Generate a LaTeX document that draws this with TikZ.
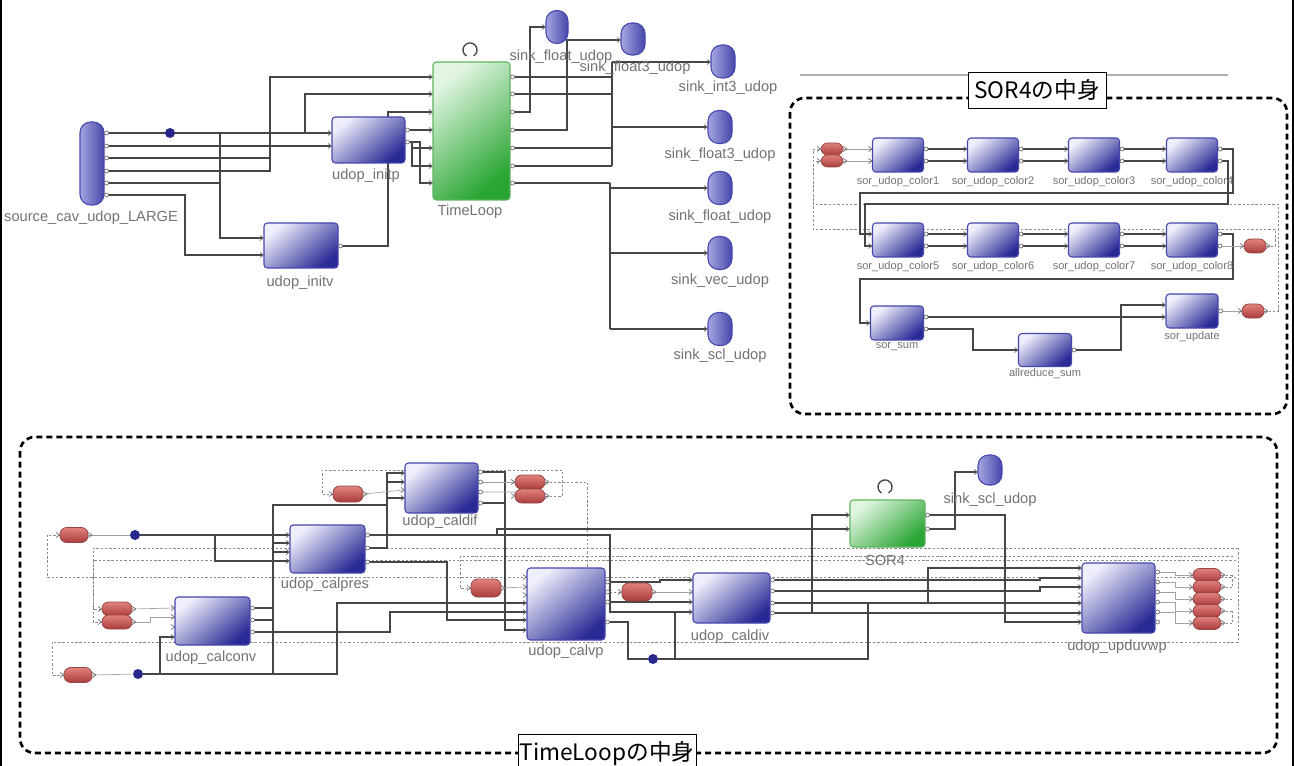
\documentclass[tikz,border=0pt]{standalone}
\usepackage{fontspec}
\setmainfont{Liberation Sans}
\newfontfamily\jpfont{Noto Sans CJK JP}
\usetikzlibrary{calc}
\pgfdeclarelayer{bg}
\pgfdeclarelayer{paper}
\pgfsetlayers{paper,bg,main}
\definecolor{btop}{RGB}{238,238,252}
\definecolor{bbot}{RGB}{42,42,150}
\definecolor{bedge}{RGB}{70,70,175}
\definecolor{gtop}{RGB}{225,245,225}
\definecolor{gbot}{RGB}{40,165,50}
\definecolor{gedge}{RGB}{95,180,95}
\definecolor{ctop}{RGB}{165,165,225}
\definecolor{cbot}{RGB}{70,70,170}
\definecolor{rtop}{RGB}{225,130,125}
\definecolor{rbot}{RGB}{170,60,60}
\definecolor{redge}{RGB}{150,70,70}
\definecolor{dotc}{RGB}{40,40,140}
\definecolor{wirec}{RGB}{70,70,70}
\definecolor{lblc}{RGB}{115,115,115}
\definecolor{fbc}{RGB}{140,140,140}
\newcommand\pti[1]{\draw[portst] (#1) ++(-3.5,-2.5) -- ++(3.5,2.5) -- ++(-3.5,2.5);}
\newcommand\pto[1]{\draw[portst,fill=white] (#1) ++(2,0) circle[radius=2];}
\newcommand\ptr[1]{\draw[portst] (#1) ++(0,-2.5) -- ++(3.5,2.5) -- ++(-3.5,2.5);}
\tikzset{
 sz/.style 2 args={minimum width=#1*0.75pt, minimum height=#2*0.75pt},
 blk/.style={draw=bedge, line width=0.8pt, rounded corners=2.5pt, inner sep=0pt, top color=btop, bottom color=bbot, shading angle=40},
 gblk/.style={draw=gedge, line width=0.8pt, rounded corners=2.5pt, inner sep=0pt, top color=gtop, bottom color=gbot, shading angle=40},
 capsv/.style={draw=bedge, line width=0.8pt, inner sep=0pt, rounded corners=8pt, left color=ctop, right color=cbot},
 capsr/.style={draw=redge, line width=0.6pt, inner sep=0pt, rounded corners=5pt, top color=rtop, bottom color=rbot, sz={28}{15}},
 dotn/.style={circle, fill=dotc, inner sep=0pt, minimum size=7.5pt},
 w/.style={draw=wirec, line width=0.8pt},
 tw/.style={draw=fbc!80, line width=0.5pt},
 fb/.style={draw=fbc, line width=0.7pt, dash pattern=on 1.8pt off 1.4pt},
 portst/.style={draw=wirec!80, line width=0.5pt},
 lbl/.style={text=lblc, inner sep=0pt, font=\fontsize{11}{12}\selectfont},
 slbl/.style={text=lblc, inner sep=0pt, font=\fontsize{8.3}{9}\selectfont},
 frame/.style={draw=black, line width=2pt, dash pattern=on 4.5pt off 3pt, rounded corners=11pt},
 jbox/.style={draw=black, line width=0.6pt, fill=white, inner sep=0pt, font=\jpfont\fontsize{17}{18}\selectfont},
 loopst/.style={draw=wirec, line width=1pt},
}
\begin{document}
\begin{tikzpicture}[x=0.75pt,y=-0.75pt]
\useasboundingbox (0,0) rectangle (1294,766);
\begin{pgfonlayer}{paper}
\fill[white] (0,0) rectangle (1294,766);
\end{pgfonlayer}
\draw[line width=1.6pt] (1,0) -- (1,766);
\draw[line width=1.6pt] (1293,0) -- (1293,766);

% ---------------- top-left graph ----------------
\node[capsv, sz={24}{83}] (src) at (92,163.5) {};
\node[blk, sz={73}{46}] (initp) at (368.5,140) {};
\node[blk, sz={74}{45}] (initv) at (301,245.5) {};
\node[gblk, sz={77}{138}] (TL) at (471.5,131) {};
\node[capsv, sz={22}{33}] (skfa) at (557,27) {};
\node[capsv, sz={24}{32}] (skfta) at (633,39) {};
\node[capsv, sz={24}{33}] (skit) at (723,61.5) {};
\node[capsv, sz={24}{33}] (skftb) at (720,127) {};
\node[capsv, sz={24}{33}] (skfb) at (720,188) {};
\node[capsv, sz={24}{33}] (skv) at (720,253) {};
\node[capsv, sz={24}{33}] (sks) at (720,329) {};
\node[dotn] (dA) at (170,133) {};
\draw[loopst] (466.5,56) arc[start angle=120, end angle=420, radius=7];

\begin{pgfonlayer}{bg}
\draw[w] (src.east |- 0,133) -- (initp.west |- 0,133);
\draw[w, line width=1.7pt] (253,133) -- (305,133);
\draw[w] (src.east |- 0,146) -- (initp.west |- 0,146);
\draw[w] (src.east |- 0,158) -- (270,158);
\draw[w] (src.east |- 0,171) -- (270,171) -- (270,77) -- (TL.west |- 0,77);
\draw[w] (src.east |- 0,183) -- (220,183);
\draw[w] (src.east |- 0,195) -- (185,195) -- (185,255) -- (initv.west |- 0,255);
\draw[w] (220,133) -- (220,238) -- (initv.west |- 0,238);
\draw[w] (305,133) -- (305,94) -- (TL.west |- 0,94);
\draw[w] (initv.east |- 0,246) -- (388,246) -- (388,112) -- (TL.west |- 0,112);
\draw[w] (initp.east |- 0,130) -- (TL.west |- 0,130);
\draw[w] (initp.east |- 0,142) -- (412,142) -- (412,166) -- (TL.west |- 0,166);
\draw[w] (412,148) -- (TL.west |- 0,148);
\draw[w] (412,142) -- (420,142) -- (420,183) -- (TL.west |- 0,183);
\draw[w] (TL.east |- 0,77) -- (612,77);
\draw[w] (TL.east |- 0,94) -- (612,94);
\draw[w] (TL.east |- 0,112) -- (530,112) -- (530,27) -- (skfa.west |- 0,27);
\draw[w] (TL.east |- 0,130) -- (567,130) -- (567,40) -- (skfta.west |- 0,40);
\draw[w] (TL.east |- 0,148) -- (612,148);
\draw[w] (TL.east |- 0,166) -- (612,166);
\draw[w] (TL.east |- 0,183) -- (610,183);
\draw[w] (612,62) -- (612,166);
\draw[w] (610,183) -- (610,329);
\draw[w] (612,62) -- (skit.west |- 0,62);
\draw[w] (612,127) -- (skftb.west |- 0,127);
\draw[w] (610,188) -- (skfb.west |- 0,188);
\draw[w] (610,253) -- (skv.west |- 0,253);
\draw[w] (610,329) -- (sks.west |- 0,329);
\end{pgfonlayer}

\foreach \y in {133,146,158,171,183,195} {\pto{src.east |- 0,\y}}
\foreach \y in {133,146} {\pti{initp.west |- 0,\y}}
\foreach \y in {130,142} {\pto{initp.east |- 0,\y}}
\foreach \y in {238,255} {\pti{initv.west |- 0,\y}}
\pto{initv.east |- 0,246}
\foreach \y in {77,94,112,130,148,166,183} {\pti{TL.west |- 0,\y}\pto{TL.east |- 0,\y}}
\pti{skfa.west |- 0,27}\pti{skfta.west |- 0,40}\pti{skit.west |- 0,62}
\pti{skftb.west |- 0,127}\pti{skfb.west |- 0,188}\pti{skv.west |- 0,253}\pti{sks.west |- 0,329}

\node[lbl] at (91,218) {source\_cav\_udop\_LARGE};
\node[lbl] at (366,176) {udop\_initp};
\node[lbl] at (300,283) {udop\_initv};
\node[lbl] at (470,212) {TimeLoop};
\node[lbl] at (561,57) {sink\_float\_udop};
\node[lbl] at (635,68) {sink\_float3\_udop};
\node[lbl] at (728,88) {sink\_int3\_udop};
\node[lbl] at (720,155) {sink\_float3\_udop};
\node[lbl] at (720,217) {sink\_float\_udop};
\node[lbl] at (720,281) {sink\_vec\_udop};
\node[lbl] at (720,356) {sink\_scl\_udop};

% ---------------- SOR4 contents ----------------
\draw[draw=gray!60, line width=0.8pt] (800,75) -- (1228,75);
\draw[frame] (790,98) rectangle (1287,414);
\node[jbox, sz={138}{36}] (sorlbl) at (1037,90) {SOR4の中身};

\foreach \n/\x/\y in {c1/898/155,c2/993/155,c3/1094/155,c4/1192/155,c5/898/240,c6/993/240,c7/1094/240,c8/1192/240}
  {\node[blk, sz={51}{34}] (\n) at (\x,\y) {};}
\node[blk, sz={53}{34}] (ssum) at (897,323) {};
\node[blk, sz={53}{33}] (ared) at (1045,350) {};
\node[blk, sz={52}{34}] (supd) at (1192,311) {};
\node[capsr, sz={22}{12}] (srA) at (832,149) {};
\node[capsr, sz={22}{12}] (srB) at (832,161) {};
\node[capsr, sz={22}{14}] (srC) at (1255,246) {};
\node[capsr, sz={22}{14}] (srD) at (1253,311) {};

\begin{pgfonlayer}{bg}
\draw[fb] (srD.east) -- (1278,311) -- (1278,204) -- (813,204) -- (813,149) -- (srA.west);
\draw[fb] (srC.east) -- (1275,246) -- (1275,229) -- (813,229) -- (813,161) -- (srB.west);
\draw[tw] (srA.east) -- (c1.west |- 0,149);
\draw[tw] (srB.east) -- (c1.west |- 0,161);
\foreach \a/\b in {c1/c2,c2/c3,c3/c4,c5/c6,c6/c7,c7/c8}
  {\draw[w] ([yshift=4.5pt]\a.east) -- ([yshift=4.5pt]\b.west);
   \draw[w] ([yshift=-4.5pt]\a.east) -- ([yshift=-4.5pt]\b.west);}
\draw[w] (c4.east |- 0,149) -- (1233,149) -- (1233,193) -- (860,193) -- (860,234) -- (c5.west |- 0,234);
\draw[w] (c4.east |- 0,161) -- (1228,161) -- (1228,204) -- (865,204) -- (865,246) -- (c5.west |- 0,246);
\draw[w] (c8.east |- 0,234) -- (1233,234) -- (1233,279) -- (860,279) -- (860,323) -- (ssum.west);
\draw[tw] (c8.east |- 0,246) -- (srC.west);
\draw[w] (ssum.east |- 0,317) -- (supd.west |- 0,317);
\draw[w] (ssum.east |- 0,329) -- (973,329) -- (973,350) -- (ared.west);
\draw[w] (ared.east) -- (1121,350) -- (1121,305) -- (supd.west |- 0,305);
\draw[tw] (supd.east) -- (srD.west);
\end{pgfonlayer}

\foreach \n in {c1,c2,c3,c4,c5,c6,c7,c8}
  {\pti{[yshift=4.5pt]\n.west}\pti{[yshift=-4.5pt]\n.west}\pto{[yshift=4.5pt]\n.east}\pto{[yshift=-4.5pt]\n.east}}
\pti{ssum.west}\pto{ssum.east |- 0,317}\pto{ssum.east |- 0,329}
\pti{ared.west}\pto{ared.east}
\pti{supd.west |- 0,305}\pti{supd.west |- 0,317}\pto{supd.east}
\foreach \n in {srA,srB,srC,srD} {\pti{\n.west}\ptr{\n.east}}

\foreach \n/\x/\y/\t in {c1/898/182/1,c2/993/182/2,c3/1094/182/3,c4/1192/182/4,c5/898/267/5,c6/993/267/6,c7/1094/267/7,c8/1192/267/8}
  {\node[slbl] at (\x,\y) {sor\_udop\_color\t};}
\node[slbl] at (897,347) {sor\_sum};
\node[slbl] at (1045,374) {allreduce\_sum};
\node[slbl] at (1192,337) {sor\_update};

% ---------------- TimeLoop contents ----------------
\draw[frame] (20,437) rectangle (1277,753);
\node[jbox, sz={178}{38}, anchor=north] (tllbl) at (607,734) {TimeLoopの中身};

\node[capsr] (rA) at (74,535) {};
\node[dotn] (dB) at (135,535) {};
\node[capsr, sz={30}{14}] (rB1) at (117,609) {};
\node[capsr, sz={30}{14}] (rB2) at (117,622) {};
\node[capsr] (rC) at (78,675) {};
\node[dotn] (dC) at (138,674) {};
\node[blk, sz={75}{48}] (cconv) at (212.5,621) {};
\node[blk, sz={75}{48}] (cpres) at (327.5,549) {};
\node[blk, sz={73}{50}] (cdif) at (441.5,488) {};
\node[capsr, sz={30}{16}] (rD) at (348,494) {};
\node[capsr, sz={30}{14}] (rE1) at (530,482) {};
\node[capsr, sz={30}{14}] (rE2) at (530,496) {};
\node[blk, sz={78}{72}] (cvp) at (566,604) {};
\node[capsr, sz={30}{18}] (rF) at (486,588) {};
\node[capsr, sz={30}{18}] (rG) at (637,592) {};
\node[dotn] (dD) at (653,659) {};
\node[blk, sz={77}{50}] (cdiv) at (731.5,598) {};
\node[gblk, sz={75}{47}] (sor) at (887.5,523.5) {};
\node[capsv, sz={24}{30}] (sksb) at (990,470) {};
\node[blk, sz={73}{70}] (cupd) at (1118.5,598) {};
\foreach \k/\y in {1/575,2/587,3/599,4/611,5/623} {\node[capsr, sz={28}{13}] (rH\k) at (1207,\y) {};}
\draw[loopst] (881.5,493) arc[start angle=120, end angle=420, radius=7];

\begin{pgfonlayer}{bg}
% feedback loops
\draw[fb] (1238,548) -- (93,548) -- (93,609) -- (rB1.west);
\draw[fb] (1238,548) -- (1238,642) -- (52,642) -- (52,675) -- (rC.west);
\draw[fb] (1236,560) -- (93,560) -- (93,622) -- (rB2.west);
\draw[fb] (1236,577) -- (47,577) -- (47,535) -- (rA.west);
\draw[fb] (1233,556) -- (460,556) -- (460,588) -- (rF.west);
\draw[fb] (rE1.east) -- (587,482) -- (587,568);
\draw[fb] (rE2.east) -- (562,496) -- (562,470) -- (322,470) -- (322,494) -- (rD.west);
\draw[fb] (cvp.east |- 0,592) -- (rG.west);
\foreach \k/\y in {1/575,2/587,3/599,4/611,5/623} {\draw[fb] (rH\k.east) -- (1232,\y);}
\draw[fb] (1232,575) -- (1232,587);
\draw[fb] (1232,611) -- (1232,623);
% solid wires
\draw[tw] (rA.east) -- (dB);
\draw[w] (dB) -- (610,535) -- (610,612) -- (cdiv.west |- 0,612);
\draw[w] (497,535) -- (497,529) -- (sor.west |- 0,529);
\draw[w] (215,535) -- (215,561) -- (cpres.west |- 0,561);
\draw[tw] (rC.east) -- (dC);
\draw[w] (dC) -- (337,674) -- (337,603) -- (cvp.west |- 0,603);
\draw[w] (160,674) -- (160,637) -- (cconv.west |- 0,637);
\draw[w] (273,674) -- (273,505) -- (387,505);
\draw[w] (cconv.east |- 0,608) -- (273,608);
\draw[w] (cconv.east |- 0,620) -- (273,620);
\draw[w] (cconv.east |- 0,632) -- (390,632) -- (390,612) -- (cvp.west |- 0,612);
\draw[w] (273,543) -- (cpres.west |- 0,543);
\draw[w] (273,552) -- (cpres.west |- 0,552);
\draw[w] (cpres.east |- 0,535) -- (387,535);
\draw[w] (cpres.east |- 0,548) -- (387,548) -- (387,473) -- (cdif.west |- 0,473);
\draw[w] (387,482) -- (cdif.west |- 0,482);
\draw[w] (387,498) -- (cdif.west |- 0,498);
\draw[w] (cpres.east |- 0,562) -- (447,562) -- (447,620) -- (cvp.west |- 0,620);
\draw[w] (cdif.east |- 0,472) -- (505,472) -- (505,630) -- (cvp.west |- 0,630);
\draw[w] (cdif.east |- 0,503) -- (505,503);
\draw[tw] (cdif.east |- 0,482) -- (rE1.west);
\draw[tw] (cdif.east |- 0,492) -- (515,492) -- (rE2.west);
\draw[tw] (rD.east) -- (cdif.west |- 0,490);
\draw[tw] (rF.east) -- (cvp.west |- 0,587);
\draw[tw] (rB1.east) -- (cconv.west |- 0,608);
\draw[tw] (rB2.east) -- (150,622) -- (150,617) -- (cconv.west |- 0,617);
\draw[w] (cvp.east |- 0,582) -- (660,582) -- (660,580) -- (cdiv.west |- 0,580);
\draw[tw] (rG.east) -- (cdiv.west |- 0,592);
\draw[w] (cvp.east |- 0,602) -- (cdiv.west |- 0,602);
\draw[w] (cvp.east |- 0,622) -- (628,622) -- (628,659) -- (dD) -- (868,659) -- (868,603);
\draw[w] (675,612) -- (675,659);
\draw[w] (cdiv.east |- 0,580) -- (1040,580) -- (1040,578) -- (cupd.west |- 0,578);
\draw[w] (cdiv.east |- 0,591) -- (1040,591) -- (1040,587) -- (cupd.west |- 0,587);
\draw[w] (cdiv.east |- 0,603) -- (cupd.west |- 0,603);
\draw[w] (928,603) -- (928,568) -- (cupd.west |- 0,568);
\draw[w] (cdiv.east |- 0,613) -- (cupd.west |- 0,613);
\draw[w] (812,613) -- (812,515) -- (sor.west |- 0,515);
\draw[w] (sor.east |- 0,515) -- (1005,515) -- (1005,622) -- (cupd.west |- 0,622);
\draw[w] (sor.east |- 0,529) -- (955,529) -- (955,472) -- (sksb.west |- 0,472);
\foreach \k/\y/\z in {1/572/575,2/582/587,3/592/599,4/602/611,5/612/623}
  {\draw[tw] (cupd.east |- 0,\y) -- (1175,\y) -- (1175,\z) -- (rH\k.west);}
\end{pgfonlayer}

\foreach \y in {608,617,627,637} {\pti{cconv.west |- 0,\y}}
\foreach \y in {608,620,632} {\pto{cconv.east |- 0,\y}}
\foreach \y in {535,543,552,561} {\pti{cpres.west |- 0,\y}}
\foreach \y in {535,548,562} {\pto{cpres.east |- 0,\y}}
\foreach \y in {473,482,490,498} {\pti{cdif.west |- 0,\y}}
\foreach \y in {472,482,492,503} {\pto{cdif.east |- 0,\y}}
\foreach \y in {577,587,595,603,612,620,630} {\pti{cvp.west |- 0,\y}}
\foreach \y in {582,592,602,622} {\pto{cvp.east |- 0,\y}}
\foreach \y in {580,592,602,612} {\pti{cdiv.west |- 0,\y}}
\foreach \y in {580,591,603,613} {\pto{cdiv.east |- 0,\y}}
\foreach \y in {515,529} {\pti{sor.west |- 0,\y}\pto{sor.east |- 0,\y}}
\pti{sksb.west |- 0,472}
\foreach \y in {568,578,587,595,603,613,622} {\pti{cupd.west |- 0,\y}}
\foreach \y in {572,582,592,602,612,622} {\pto{cupd.east |- 0,\y}}
\foreach \n in {rA,rB1,rB2,rC,rD,rE1,rE2,rF,rG,rH1,rH2,rH3,rH4,rH5} {\pti{\n.west}\ptr{\n.east}}

\node[lbl] at (211,658) {udop\_calconv};
\node[lbl] at (325,585) {udop\_calpres};
\node[lbl] at (440,522) {udop\_caldif};
\node[lbl] at (566,652) {udop\_calvp};
\node[lbl] at (730,637) {udop\_caldiv};
\node[lbl] at (885,560) {SOR4};
\node[lbl] at (990,500) {sink\_scl\_udop};
\node[lbl] at (1117,647) {udop\_upduvwp};
\end{tikzpicture}
\end{document}
